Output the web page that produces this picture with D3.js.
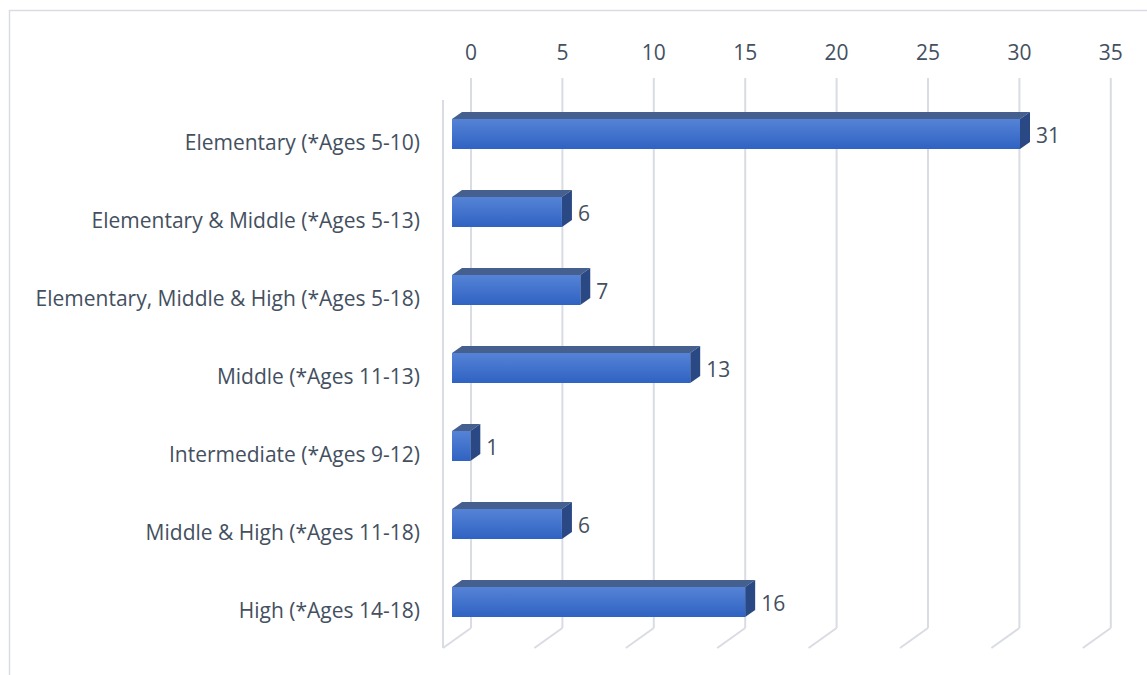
<!DOCTYPE html>
<html><head><meta charset="utf-8">
<script src="https://cdn.jsdelivr.net/npm/d3@7"></script>
<style>body{margin:0;background:#fff}svg{display:block}</style>
</head><body>
<svg id="c" width="1147" height="675"></svg>
<script>
const categories = ["Elementary (*Ages 5-10)","Elementary & Middle (*Ages 5-13)","Elementary, Middle & High (*Ages 5-18)","Middle (*Ages 11-13)","Intermediate (*Ages 9-12)","Middle & High (*Ages 11-18)","High (*Ages 14-18)"];
const values = [31,6,7,13,1,6,16];
const ticks = [0,5,10,15,20,25,30,35];

const svg = d3.select("#c");
const font = "'Open Sans', sans-serif";
const fs = 21;
const txt = "#44505f";
const grid = "#d9dce3";
const dx = 10, dy = -7;         // bar depth offset
const wallDx = 28, wallDy = -20; // wall depth offset

// chart border
svg.append("rect").attr("x",9.5).attr("y",10.5).attr("width",1150).attr("height",680)
  .attr("fill","none").attr("stroke","#d9dde3").attr("stroke-width",1.5);

const xFront = d3.scaleLinear().domain([0,35]).range([443, 443 + 35*18.28]);
const xBack = v => xFront(v) + wallDx;
const xBar = d3.scaleLinear().domain([0,31]).range([452, 1020]);
const y = d3.scaleBand().domain(categories).range([102, 648]);

const defs = svg.append("defs");
const g = defs.append("linearGradient").attr("id","fg").attr("x1",0).attr("x2",0).attr("y1",0).attr("y2",1);
g.append("stop").attr("offset","0").attr("stop-color","#5583d6");
g.append("stop").attr("offset","1").attr("stop-color","#2f62c2");

const floorY = 648, backBottom = floorY + wallDy, backTop = 78;
// back gridlines
ticks.forEach(t => {
  svg.append("line").attr("x1",xBack(t)).attr("x2",xBack(t)).attr("y1",backTop).attr("y2",backBottom)
    .attr("stroke",grid).attr("stroke-width",2);
  svg.append("line").attr("x1",xBack(t)).attr("x2",xFront(t)).attr("y1",backBottom).attr("y2",floorY)
    .attr("stroke",grid).attr("stroke-width",2);
});
// left wall front edge
svg.append("line").attr("x1",xFront(0)).attr("x2",xFront(0)).attr("y1",100).attr("y2",floorY)
  .attr("stroke",grid).attr("stroke-width",2);

// top tick labels
svg.selectAll(".tick").data(ticks).enter().append("text")
  .attr("x",d=>xBack(d)).attr("y",60).attr("text-anchor","middle")
  .attr("font-family",font).attr("font-size",fs).attr("fill",txt).text(d=>d);

// category labels
svg.selectAll(".cat").data(categories).enter().append("text")
  .attr("x",420).attr("y",d=>y(d)+y.bandwidth()/2+9).attr("text-anchor","end")
  .attr("font-family",font).attr("font-size",fs).attr("fill",txt).text(d=>d);

// bars
const bh = 30;
categories.forEach((c,i) => {
  const v = values[i];
  const cy = y(c) + y.bandwidth()/2 - 7;
  const x0 = xBar(0), x1 = xBar(v), y0 = cy - bh/2, y1 = cy + bh/2;
  const bg = svg.append("g");
  bg.append("path").attr("d",`M${x0},${y0}L${x0+dx},${y0+dy}L${x1+dx},${y0+dy}L${x1},${y0}Z`).attr("fill","#45608f");
  bg.append("path").attr("d",`M${x1},${y0}L${x1+dx},${y0+dy}L${x1+dx},${y1+dy}L${x1},${y1}Z`).attr("fill","#2a4883");
  bg.append("rect").attr("x",x0).attr("y",y0).attr("width",x1-x0).attr("height",bh).attr("fill","url(#fg)");
  svg.append("text").attr("x",x1+dx+6).attr("y",cy+9).attr("font-family",font).attr("font-size",fs)
    .attr("fill",txt).text(v);
});
</script>
</body></html>
